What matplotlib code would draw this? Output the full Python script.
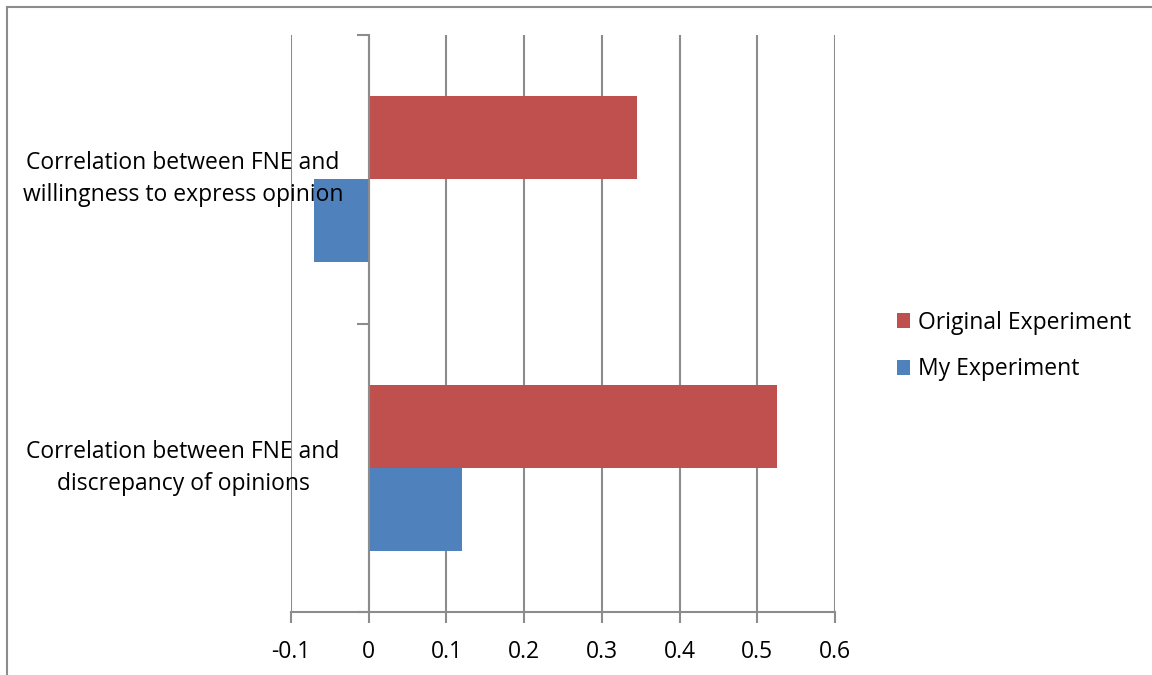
import matplotlib
matplotlib.use("Agg")
import matplotlib.pyplot as plt
from matplotlib.lines import Line2D
from matplotlib.patches import Patch
import matplotlib.transforms as mtransforms

categories = ["Correlation between FNE and\ndiscrepancy of opinions",
              "Correlation between FNE and\nwillingness to express opinion"]
series_names = ["Original Experiment", "My Experiment"]
original = [0.526, 0.345]
mine = [0.12, -0.07]
xticks = [-0.1, 0, 0.1, 0.2, 0.3, 0.4, 0.5, 0.6]
xticklabels = ["-0.1", "0", "0.1", "0.2", "0.3", "0.4", "0.5", "0.6"]

RED = "#C0504D"
BLUE = "#4F81BD"
GRID = "#8C8C8C"
FONT = "Open Sans"
FS = 16.5

fig = plt.figure(figsize=(11.52, 6.75), dpi=100)
W, H = 1152, 675
ax = fig.add_axes([291 / W, 1 - 612 / H, (835 - 291) / W, (612 - 35) / H])

h = 0.288
ypos = list(range(len(categories)))
ax.barh([y + h / 2 for y in ypos], original, height=h, color=RED, zorder=3, label=series_names[0])
ax.barh([y - h / 2 for y in ypos], mine, height=h, color=BLUE, zorder=3, label=series_names[1])

ax.set_xlim(-0.1, 0.6)
ax.set_ylim(-0.5, len(categories) - 0.5)
ax.set_xticks(xticks)
ax.set_xticklabels(xticklabels, fontfamily=FONT, fontsize=FS)
ax.tick_params(axis="x", length=8, width=1.5, color=GRID, pad=12)
ax.xaxis.grid(True, color=GRID, linewidth=1.5, zorder=0)
ax.set_axisbelow(True)

for s in ["top", "right"]:
    ax.spines[s].set_visible(False)
ax.spines["bottom"].set_color(GRID)
ax.spines["bottom"].set_linewidth(1.5)
ax.spines["left"].set_position(("data", 0))
ax.spines["left"].set_color(GRID)
ax.spines["left"].set_linewidth(1.5)
ax.spines["left"].set_zorder(4)
ax.set_yticks([-0.5 + i for i in range(len(categories) + 1)])
ax.set_yticklabels([])
ax.tick_params(axis="y", length=9, width=1.5, color=GRID, direction="out")

trans = mtransforms.blended_transform_factory(fig.transFigure, ax.transData)
for y, lab in zip(ypos, categories):
    fig.text(183 / W, y, lab, transform=trans, ha="center", va="center",
             fontfamily=FONT, fontsize=FS, linespacing=1.45, zorder=10)

handles = [Patch(facecolor=RED, edgecolor="none"), Patch(facecolor=BLUE, edgecolor="none")]
fig.legend(handles, series_names, loc="center left", bbox_to_anchor=(876 / W, 1 - 346 / H),
           frameon=False, prop={"family": FONT, "size": FS}, handlelength=0.6, handleheight=0.6,
           handletextpad=0.35, labelspacing=1.0)

# outer border (left and top visible)
fig.add_artist(Line2D([7 / W, 7 / W], [0, 1 - 7 / H], transform=fig.transFigure, color=GRID, linewidth=1.5))
fig.add_artist(Line2D([7 / W, 1], [1 - 7 / H, 1 - 7 / H], transform=fig.transFigure, color=GRID, linewidth=1.5))

fig.savefig("out.png", dpi=100)
